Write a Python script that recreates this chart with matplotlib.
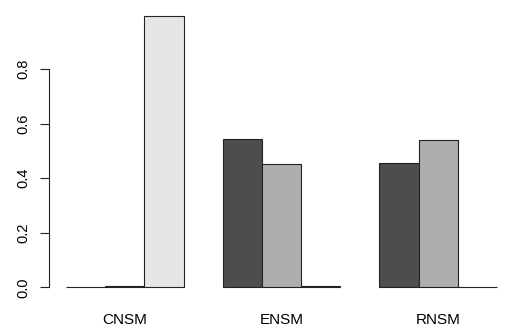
import numpy as np
import matplotlib
matplotlib.use("Agg")
import matplotlib.pyplot as plt

plt.rcParams['font.family'] = ['Liberation Sans', 'DejaVu Sans']

# data
groups = ['CNSM', 'ENSM', 'RNSM']
series1 = [0.0, 0.543, 0.457]
series2 = [0.005, 0.452, 0.541]
series3 = [0.995, 0.003, 0.002]
yticks = [0.0, 0.2, 0.4, 0.6, 0.8]
colors = ['#4d4d4d', '#aeaeae', '#e6e6e6']

W, H = 510, 336
fig = plt.figure(figsize=(W / 100, H / 100), dpi=100)
# axes placed in pixel terms, like R's plot region
left_px, right_px, top_px, bottom_px = 48.8, 510, 0, 298
ax = fig.add_axes([left_px / W, 1 - bottom_px / H,
                   (right_px - left_px) / W, (bottom_px - top_px) / H])

# R barplot(beside=TRUE): one bar-width gap before each group
idx = np.arange(len(groups))
for i, (vals, col) in enumerate(zip([series1, series2, series3], colors)):
    ax.bar(1 + idx * 4 + i, vals, width=1, align='edge', color=col,
           edgecolor='#222222', linewidth=0.8)

ppu_x = (497 - 66) / 11
ax.set_xlim(1 - (66 - left_px) / ppu_x, 1 + (right_px - 66) / ppu_x)
ppu_y = 273.0
ax.set_ylim(-(bottom_px - 287.3) / ppu_y, (287.3 - top_px) / ppu_y)

for s in ['top', 'right', 'bottom']:
    ax.spines[s].set_visible(False)
ax.spines['left'].set_bounds(0, 0.8)
ax.spines['left'].set_linewidth(0.8)
ax.spines['left'].set_color('#222222')

ax.set_yticks(yticks)
ax.set_yticklabels([f"{v:.1f}" for v in yticks], rotation=90, va='center')
ax.tick_params(axis='y', length=6.5, width=0.8, color='#222222', pad=7,
               labelsize=10.5)
ax.set_xticks(2.5 + idx * 4)
ax.set_xticklabels(groups)
ax.tick_params(axis='x', length=0, pad=11, labelsize=11)

fig.savefig('out.png', dpi=100)
